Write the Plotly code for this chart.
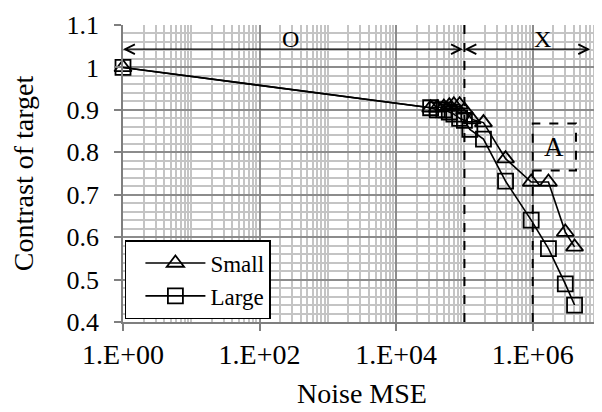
import math
import plotly.graph_objects as go

# ---- data ----
small_x = [1, 3.2e4, 4e4, 5e4, 6e4, 7e4, 8.5e4, 1.0e5, 1.3e5, 1.9e5, 4.0e5, 9.5e5, 1.7e6, 3.0e6, 4.1e6]
small_y = [1.0, 0.905, 0.905, 0.907, 0.91, 0.912, 0.912, 0.90, 0.877, 0.87, 0.785, 0.73, 0.73, 0.612, 0.577]
large_x = [1, 3.2e4, 4e4, 5e4, 6e4, 7e4, 8.5e4, 1.0e5, 1.2e5, 1.9e5, 4.0e5, 9.5e5, 1.7e6, 3.0e6, 4.1e6]
large_y = [1.0, 0.905, 0.90, 0.90, 0.895, 0.89, 0.88, 0.875, 0.854, 0.831, 0.732, 0.64, 0.573, 0.49, 0.44]

x_tickvals = [1, 1e2, 1e4, 1e6]
x_ticktext = ["1.E+00", "1.E+02", "1.E+04", "1.E+06"]
y_tickvals = [0.4, 0.5, 0.6, 0.7, 0.8, 0.9, 1.0, 1.1]
y_ticktext = ["0.4", "0.5", "0.6", "0.7", "0.8", "0.9", "1", "1.1"]

boundary_ox = 1e5          # boundary between region O and X
region_a_x = [1e6, 4.3e6]   # box A x extent
region_a_y = [0.757, 0.868] # box A y extent
arrow_y = 1.043
x_end = 7.3e6

FONT = "Liberation Serif"

minor_x = [m * 10 ** k for k in range(0, 7) for m in range(1, 10)]
minor_y = [round(0.4 + 0.02 * i, 2) for i in range(36)]

fig = go.Figure()

dash_line = dict(color="black", width=2, dash="dash")
fig.add_trace(go.Scatter(x=[boundary_ox, boundary_ox], y=[0.4, 1.1], mode="lines",
                         line=dash_line, showlegend=False, hoverinfo="skip"))
fig.add_trace(go.Scatter(x=[region_a_x[0], region_a_x[0]], y=[0.4, region_a_y[0]], mode="lines",
                         line=dash_line, showlegend=False, hoverinfo="skip"))
fig.add_trace(go.Scatter(x=[region_a_x[0], region_a_x[1], region_a_x[1], region_a_x[0], region_a_x[0]],
                         y=[region_a_y[0], region_a_y[0], region_a_y[1], region_a_y[1], region_a_y[0]],
                         mode="lines", line=dash_line, showlegend=False, hoverinfo="skip"))

fig.add_trace(go.Scatter(x=small_x, y=small_y, name="Small", mode="lines+markers",
                         line=dict(color="black", width=1.6), cliponaxis=False,
                         marker=dict(symbol="triangle-up-open", size=15, color="black",
                                     line=dict(width=1.8, color="black"))))
fig.add_trace(go.Scatter(x=large_x, y=large_y, name="Large", mode="lines+markers",
                         line=dict(color="black", width=1.6), cliponaxis=False,
                         marker=dict(symbol="square-open", size=15, color="black",
                                     line=dict(width=1.8, color="black"))))

for x0, x1 in [(1, boundary_ox), (boundary_ox, x_end)]:
    fig.add_annotation(x=math.log10(x0), y=arrow_y, ax=math.log10(x1), ay=arrow_y,
                       xref="x", yref="y", axref="x", ayref="y", text="",
                       showarrow=True, arrowhead=5, startarrowhead=5, arrowside="end+start",
                       arrowsize=1.6, arrowwidth=1.2, arrowcolor="black",
                       standoff=0, startstandoff=0)

fig.add_annotation(x=2.45, y=1.068, text="O", showarrow=False,
                   font=dict(family=FONT, size=24, color="black"))
fig.add_annotation(x=6.15, y=1.068, text="X", showarrow=False,
                   font=dict(family=FONT, size=24, color="black"))
fig.add_annotation(x=6.31, y=0.812, text="A", showarrow=False,
                   font=dict(family=FONT, size=27, color="black"))

fig.update_xaxes(type="log", range=[0, 7], tickvals=x_tickvals, ticktext=x_ticktext,
                 automargin=False, ticklabeloverflow="allow",
                 showgrid=True, gridcolor="#8c8c8c", gridwidth=1.5,
                 showline=True, linecolor="#7f7f7f", linewidth=1.5,
                 ticks="outside", ticklen=7, tickcolor="#7f7f7f", tickwidth=1.5,
                 tickfont=dict(family=FONT, size=28, color="black"),
                 title=dict(text="Noise MSE", font=dict(family=FONT, size=28, color="black"), standoff=14),
                 minor=dict(tickmode="array", tickvals=minor_x, showgrid=True,
                            gridcolor="#c4c4c4", gridwidth=1.5, ticks=""),
                 zeroline=False)
fig.update_yaxes(range=[0.4, 1.1], tickvals=y_tickvals, ticktext=y_ticktext,
                 automargin=False, ticklabeloverflow="allow", ticklabelstandoff=10,
                 showgrid=True, gridcolor="#8c8c8c", gridwidth=1.5,
                 showline=True, linecolor="#7f7f7f", linewidth=1.5,
                 ticks="outside", ticklen=7, tickcolor="#7f7f7f", tickwidth=1.5,
                 tickfont=dict(family=FONT, size=26, color="black"),
                 title=dict(text="Contrast of target", font=dict(family=FONT, size=28, color="black"), standoff=34),
                 minor=dict(tickmode="array", tickvals=minor_y, showgrid=True,
                            gridcolor="#c4c4c4", gridwidth=1.5, ticks=""),
                 zeroline=False)

# page body has an 8px margin, so the figure is sized/offset to compensate
fig.update_layout(width=594, height=404,
                  margin=dict(l=115, r=1, t=17, b=90),
                  paper_bgcolor="white", plot_bgcolor="white",
                  font=dict(family=FONT, color="black"),
                  legend=dict(x=0.004, y=0.01, xanchor="left", yanchor="bottom",
                              bgcolor="white", bordercolor="black", borderwidth=1.5,
                              font=dict(family=FONT, size=23, color="black"),
                              itemwidth=60, indentation=14, tracegroupgap=0))

fig.write_html("out.html")
